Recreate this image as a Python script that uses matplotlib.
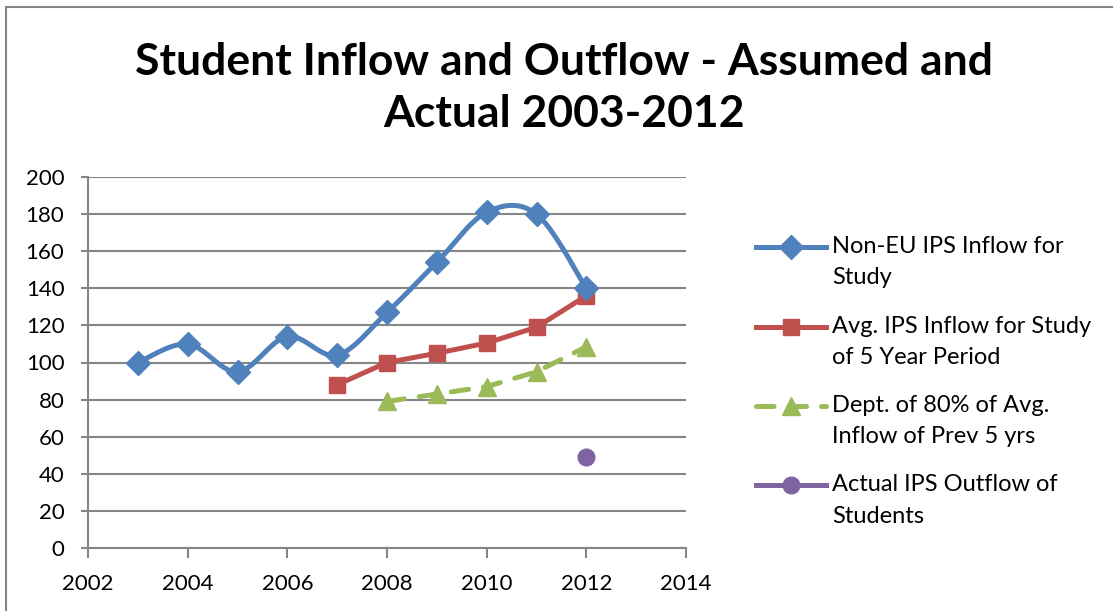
import numpy as np
import matplotlib
matplotlib.use('Agg')
import matplotlib.pyplot as plt
from matplotlib.patches import Rectangle
from matplotlib.legend_handler import HandlerLine2D

# Datos
years_blue = [2003, 2004, 2005, 2006, 2007, 2008, 2009, 2010, 2011, 2012]
inflow = [100, 110, 95, 114, 104, 127, 154, 181, 180, 140]
years_avg = [2007, 2008, 2009, 2010, 2011, 2012]
avg_inflow = [88, 100, 105, 110.5, 119, 136]
years_dept = [2008, 2009, 2010, 2011, 2012]
dept = [79, 83, 87, 95, 108.5]
years_out = [2012]
outflow = [49]

labels = ['Non-EU IPS Inflow for\nStudy',
          'Avg. IPS Inflow for Study\nof 5 Year Period',
          'Dept. of 80% of Avg.\nInflow of Prev 5 yrs',
          'Actual IPS Outflow of\nStudents']

plt.rcParams['font.family'] = ['Lato', 'DejaVu Sans']


def smooth(xs, ys, n=30):
    # curva tipo Excel (Catmull-Rom)
    x = np.asarray(xs, float)
    y = np.asarray(ys, float)
    px = np.concatenate([[x[0]], x, [x[-1]]])
    py = np.concatenate([[y[0]], y, [y[-1]]])
    out_x, out_y = [], []
    t = np.linspace(0, 1, n)
    for i in range(1, len(px) - 2):
        p0 = np.array([px[i], py[i]])
        p3 = np.array([px[i + 1], py[i + 1]])
        c1 = p0 + (np.array([px[i + 1], py[i + 1]]) - np.array([px[i - 1], py[i - 1]])) / 6
        c2 = p3 - (np.array([px[i + 2], py[i + 2]]) - np.array([px[i], py[i]])) / 6
        b = ((1 - t) ** 3)[:, None] * p0 + (3 * (1 - t) ** 2 * t)[:, None] * c1 \
            + (3 * (1 - t) * t ** 2)[:, None] * c2 + (t ** 3)[:, None] * p3
        out_x.extend(b[:, 0])
        out_y.extend(b[:, 1])
    return out_x, out_y


class FirstLineHandler(HandlerLine2D):
    # pone el simbolo a la altura de la primera linea del texto
    def create_artists(self, legend, orig_handle, xdescent, ydescent, width, height, fontsize, trans):
        return super().create_artists(legend, orig_handle, xdescent, ydescent - 2 * 11,
                                      width, height, fontsize, trans)


fig = plt.figure(figsize=(11.13, 6.11), dpi=100)
fig.patches.append(Rectangle((6 / 1113, -0.1), 1.2, 1 - 7 / 611 + 0.1, transform=fig.transFigure,
                             fill=False, edgecolor='#868686', linewidth=1.5))
ax = fig.add_axes([88 / 1113, 1 - 548 / 611, 598 / 1113, 371 / 611])

blue = '#4F81BD'
red = '#C0504D'
green = '#9BBB59'
purple = '#8064A2'
dash = (0, (3.5, 3))

sx, sy = smooth(years_blue, inflow)
ax.plot(sx, sy, color=blue, lw=3.6, solid_capstyle='round', zorder=3)
ax.plot(years_blue, inflow, ls='none', marker='D', ms=12, color=blue, zorder=4)
h1, = ax.plot([], [], color=blue, lw=3.6, marker='D', ms=12)

ax.plot(years_avg, avg_inflow, color=red, lw=3.6, marker='s', ms=11.5, zorder=3)
h2, = ax.plot([], [], color=red, lw=3.6, marker='s', ms=11.5)

ax.plot(years_dept, dept, color=green, lw=3.6, ls=dash, dash_capstyle='round',
        marker='^', ms=13, zorder=3)
h3, = ax.plot([], [], color=green, lw=3.6, ls=dash, dash_capstyle='round', marker='^', ms=13)

ax.plot(years_out, outflow, ls='none', color=purple, marker='o', ms=12, zorder=3)
h4, = ax.plot([], [], color=purple, lw=3.6, marker='o', ms=12)

ax.set_xlim(2002, 2014)
ax.set_ylim(0, 200)
ax.set_xticks(range(2002, 2015, 2))
ax.set_yticks(range(0, 201, 20))
ax.grid(axis='y', color='#868686', lw=1.5)
ax.set_axisbelow(True)
for s in ['top', 'right']:
    ax.spines[s].set_visible(False)
for s in ['left', 'bottom']:
    ax.spines[s].set_color('#868686')
    ax.spines[s].set_linewidth(1.5)
ax.tick_params(axis='y', length=5, width=1.5, color='#868686', labelsize=16, pad=12)
ax.tick_params(axis='x', length=7, width=1.5, color='#868686', labelsize=16, pad=12)

fig.text(564 / 1113, 1 - 88 / 611, 'Student Inflow and Outflow - Assumed and\nActual 2003-2012',
         ha='center', va='center', fontsize=32, fontweight='bold', linespacing=1.35)

leg = fig.legend([h1, h2, h3, h4], labels, loc='upper left', bbox_to_anchor=(735 / 1113, 1 - 215 / 611),
                 frameon=False, fontsize=17, handlelength=2.95, labelspacing=1.15, handletextpad=0.25,
                 handler_map={matplotlib.lines.Line2D: FirstLineHandler()})
for t in leg.get_texts():
    t.set_linespacing(1.6)

plt.savefig('out.png', dpi=100)
plt.close()
